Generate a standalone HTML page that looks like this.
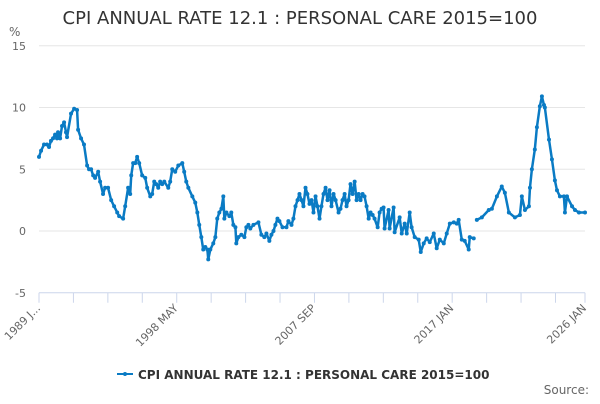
<!DOCTYPE html>
<html><head><meta charset="utf-8"><style>
body{margin:0;background:#fff;font-family:"DejaVu Sans",sans-serif}
svg text{font-family:"DejaVu Sans",sans-serif}
</style></head><body>
<svg id="chart" width="600" height="400" xmlns="http://www.w3.org/2000/svg">
<text x="300" y="24" text-anchor="middle" font-size="18" fill="#333">CPI ANNUAL RATE 12.1 : PERSONAL CARE 2015=100</text>
<text x="9" y="36" font-size="12" fill="#666">%</text>
<g id="grid"></g>
<g id="xaxis"></g>
<g id="series"></g>
<g>
<line x1="117" y1="374" x2="133" y2="374" stroke="#0a7bc4" stroke-width="2"/>
<circle cx="125" cy="374" r="2" fill="#0a7bc4"/>
<text x="138" y="379" font-size="12" font-weight="bold" fill="#333">CPI ANNUAL RATE 12.1 : PERSONAL CARE 2015=100</text>
</g>
<text x="589" y="394" text-anchor="end" font-size="12" fill="#666">Source:</text>
</svg>
<script>
const yTicks=[15,10,5,0,-5];
const xTickLabels=["1989 J...","1998 MAY","2007 SEP","2017 JAN","2026 JAN"];
const xTickYears=[1989,1998.333,2007.667,2017,2026];
const years=[1989.00,1989.14,1989.34,1989.54,1989.68,1989.81,1989.95,1990.09,1990.22,1990.29,1990.43,1990.56,1990.70,1990.83,1990.90,1991.17,1991.38,1991.58,1991.65,1991.85,1992.05,1992.26,1992.39,1992.53,1992.67,1992.80,1993.01,1993.14,1993.34,1993.48,1993.68,1993.89,1994.09,1994.30,1994.43,1994.70,1994.84,1995.04,1995.18,1995.25,1995.38,1995.52,1995.65,1995.79,1995.99,1996.20,1996.33,1996.54,1996.67,1996.81,1996.94,1997.08,1997.21,1997.35,1997.49,1997.76,1997.89,1998.03,1998.23,1998.44,1998.71,1998.84,1998.98,1999.12,1999.39,1999.59,1999.73,1999.86,2000.00,2000.13,2000.27,2000.41,2000.47,2000.61,2000.81,2000.95,2001.08,2001.22,2001.36,2001.49,2001.56,2001.70,2001.90,2002.03,2002.17,2002.31,2002.37,2002.51,2002.71,2002.92,2003.05,2003.19,2003.32,2003.53,2003.87,2004.07,2004.27,2004.41,2004.61,2004.75,2004.89,2005.02,2005.16,2005.29,2005.50,2005.77,2005.90,2006.11,2006.24,2006.38,2006.52,2006.65,2006.79,2006.92,2007.06,2007.19,2007.33,2007.47,2007.60,2007.74,2007.87,2008.01,2008.14,2008.28,2008.42,2008.55,2008.69,2008.82,2008.96,2009.10,2009.30,2009.43,2009.57,2009.71,2009.84,2009.98,2010.11,2010.25,2010.39,2010.52,2010.66,2010.79,2010.93,2011.06,2011.20,2011.34,2011.47,2011.61,2011.74,2011.95,2012.08,2012.22,
2012.35,2012.42,2012.69,2012.76,2013.03,2013.10,2013.44,2013.58,2013.78,2013.92,2014.12,2014.25,2014.46,2014.73,2014.87,2015.07,2015.27,2015.48,2015.75,2015.95,2016.16,2016.43,2016.63,2016.84,2017.11,2017.31,2017.44,2017.65,2017.85,2018.12,2018.19,2018.46,2018.55,2018.67,2019.01,2019.48,
2019.69,2020.03,2020.36,2020.57,2020.84,2021.25,2021.59,2021.72,2021.93,2022.20,2022.27,2022.40,2022.60,2022.74,2022.94,2023.08,2023.22,2023.28,2023.56,2023.76,2023.96,2024.10,2024.30,2024.57,2024.64,2024.78,2025.12,2025.32,2025.59,2026.00];
const values=[6.0,6.5,7.0,7.0,6.8,7.3,7.5,7.8,7.5,8.0,7.5,8.5,8.8,8.0,7.6,9.5,9.9,9.8,8.2,7.5,7.0,5.3,5.0,5.0,4.5,4.3,4.8,4.0,3.0,3.5,3.5,2.5,2.0,1.5,1.2,1.0,2.0,3.5,3.0,4.5,5.5,5.5,6.0,5.5,4.5,4.3,3.5,2.8,3.0,4.0,3.8,3.5,4.0,3.8,4.0,3.5,4.0,5.0,4.8,5.3,5.5,4.8,4.0,3.5,2.8,2.3,1.5,0.5,-0.5,-1.5,-1.3,-1.5,-2.3,-1.5,-1.0,-0.5,1.0,1.5,1.8,2.8,1.0,1.5,1.2,1.5,0.5,0.3,-1.0,-0.5,-0.3,-0.5,0.3,0.5,0.2,0.5,0.7,-0.3,-0.5,-0.2,-0.8,-0.3,0,0.5,1.0,0.8,0.3,0.3,0.8,0.5,1.0,2.0,2.5,3.0,2.5,2.0,3.5,3.0,2.2,2.5,1.5,2.8,2.0,1.0,2.0,3.0,3.5,2.5,3.3,2.0,3.0,2.5,1.5,1.8,2.5,3.0,2.0,2.5,3.8,3.0,4.0,2.5,3.0,2.5,3.0,2.8,2.0,1.0,1.5,1.3,1.0,0.3,1.5,1.8,
1.9,0.2,1.7,0.2,1.9,-0.1,1.1,-0.2,0.6,-0.2,1.5,0.3,-0.5,-0.7,-1.7,-1.0,-0.6,-0.9,-0.2,-1.4,-0.7,-1.0,-0.2,0.6,0.7,0.6,0.9,-0.7,-0.8,-1.5,-0.5,-0.6,null,0.9,1.1,1.7,
1.8,2.8,3.6,3.1,1.5,1.1,1.3,2.8,1.7,2.0,3.5,5.0,6.6,8.4,10.1,10.9,10.2,10.0,7.4,5.8,4.1,3.3,2.8,2.8,1.5,2.8,2.0,1.7,1.5,1.5];
const X0=39,X1=585,Y0=231,PXU=12.35;
const xs=t=>X0+(t-1989)/(2026-1989)*(X1-X0);
const ys=v=>Y0-v*PXU;
const NS="http://www.w3.org/2000/svg";
function mk(tag,attrs,parent){const e=document.createElementNS(NS,tag);for(const k in attrs)e.setAttribute(k,attrs[k]);parent.appendChild(e);return e;}
const grid=document.getElementById('grid');
yTicks.forEach(v=>{
  const l=mk('line',{x1:X0,x2:X1,y1:ys(v),y2:ys(v),stroke:v===-5?'#ccd6eb':'#e6e6e6','stroke-width':1},grid);
  
  
  const t=mk('text',{x:26,y:ys(v)+4,'text-anchor':'end','font-size':11,fill:'#666'},grid);
  
  
  t.textContent=v;
});
const xa=document.getElementById('xaxis');
for(let m=0;m<=444;m+=28){
  const x=xs(1989+m/12);
  const tk=mk('line',{x1:x,x2:x,y1:ys(-5),y2:ys(-5)+10,stroke:'#ccd6eb'},xa);
  
  
}
mk('line',{x1:X1,x2:X1,y1:ys(-5),y2:ys(-5)+10,stroke:'#ccd6eb'},xa);
xTickLabels.forEach((s,i)=>{
  const x=xs(xTickYears[i]);const y=ys(-5)+16;
  const t=mk('text',{x:x+2,y:y,'text-anchor':'end','font-size':11,fill:'#666',transform:`rotate(-45 ${x+2} ${y})`},xa);
  
  
  t.textContent=s;
});
const sg=document.getElementById('series');
let seg=[];const segs=[];
values.forEach((v,i)=>{if(v===null){if(seg.length)segs.push(seg);seg=[];}else seg.push([xs(years[i]),ys(v)]);});
if(seg.length)segs.push(seg);
segs.forEach(s=>{
  const p=mk('polyline',{points:s.map(q=>q.join(',')).join(' '),fill:'none',stroke:'#0a7bc4','stroke-width':2.5,'stroke-linejoin':'round'},sg);
  
  
});
values.forEach((v,i)=>{if(v===null)return;
  const c=mk('circle',{cx:xs(years[i]),cy:ys(v),r:2,fill:'#0a7bc4'},sg);
  
  
});
</script>
</body></html>
